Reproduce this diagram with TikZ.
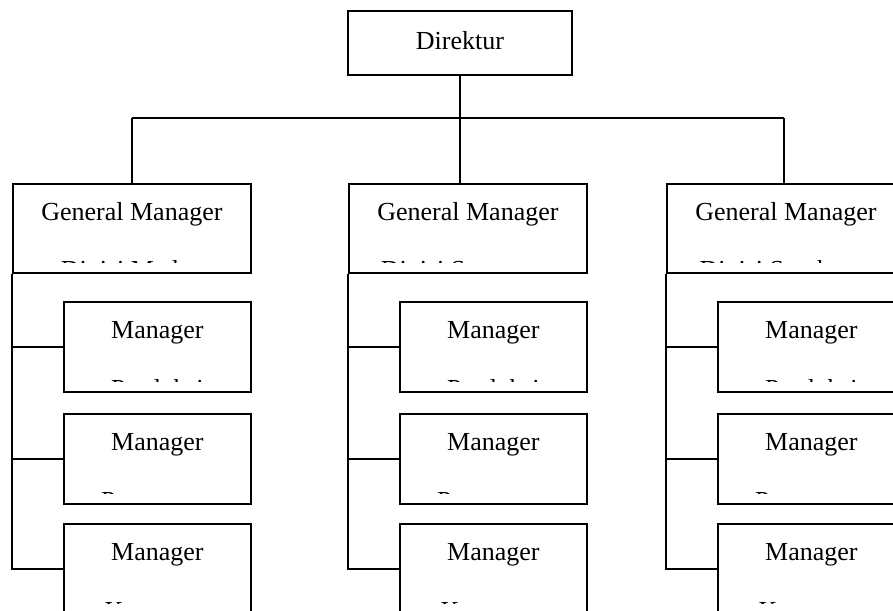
\documentclass[tikz,border=0pt]{standalone}
\usepackage{fontspec}
\setmainfont{Liberation Serif}
\usetikzlibrary{calc}
\begin{document}
\begin{tikzpicture}[x=1pt,y=-1pt,
  box/.style={draw, line width=1.8pt, fill=white, rectangle, inner sep=0pt, anchor=north west},
  conn/.style={line width=1.8pt},
  lbl/.style={anchor=base, inner sep=0pt, font=\fontsize{26}{30}\selectfont},
]
\useasboundingbox (0,0) rectangle (893,610);
\clip (0,0) rectangle (893,610);
\fill[white] (0,0) rectangle (893,610);

% Direktur
\node[box, minimum width=224pt, minimum height=64pt] (dir) at (347,10) {};
\node[lbl] (tdir) at ($(dir.north)+(0,39)$) {Direktur};

% bus
\coordinate (j1) at (132,118);
\coordinate (j3) at (784,118);

\foreach \i/\vx/\dv in {1/12/Medan, 2/348/Semarang, 3/666/Sumbawa}{
  \node[box, minimum width=238pt, minimum height=89pt] (gm\i) at (\vx,183) {};
  \node[lbl] (tgm\i) at ($(gm\i.north)+(0,37)$) {General Manager};
  \begin{scope}
    \clip ($(gm\i.north west)+(2,2)$) rectangle ($(gm\i.north east)+(-2,79.5)$);
    \node[lbl] (dgm\i) at ($(gm\i.north)+(0,95.8)$) {Divisi \dv};
  \end{scope}
  \node[box, minimum width=187pt, minimum height=90pt] (m\i1) at (\vx+51,301) {};
  \node[box, minimum width=187pt, minimum height=90pt] (m\i2) at (\vx+51,413) {};
  \node[box, minimum width=187pt, minimum height=90pt] (m\i3) at (\vx+51,523) {};
  \foreach \j/\dept in {1/Produksi, 2/Pemasaran, 3/Keuangan}{
    \node[lbl] (tm\i\j) at ($(m\i\j.north)+(0,37.5)$) {Manager};
    \begin{scope}
      \clip ($(m\i\j.north west)+(2,2)$) rectangle ($(m\i\j.north east)+(-2,80.5)$);
      \node[lbl] (dm\i\j) at ($(m\i\j.north)+(0,96.8)$) {\dept};
    \end{scope}
  }
  \draw[conn] (gm\i.south west) -- (gm\i.south west |- m\i3.west) -- (m\i3.west);
  \draw[conn] (gm\i.south west |- m\i1.west) -- (m\i1.west);
  \draw[conn] (gm\i.south west |- m\i2.west) -- (m\i2.west);
}

\draw[conn] (j1) -- (j3);
\draw[conn] (j1) -- (j1 |- gm1.north);
\draw[conn] (j3) -- (j3 |- gm3.north);
\draw[conn] (dir.south) -- (dir.south |- gm2.north);
\end{tikzpicture}
\end{document}
